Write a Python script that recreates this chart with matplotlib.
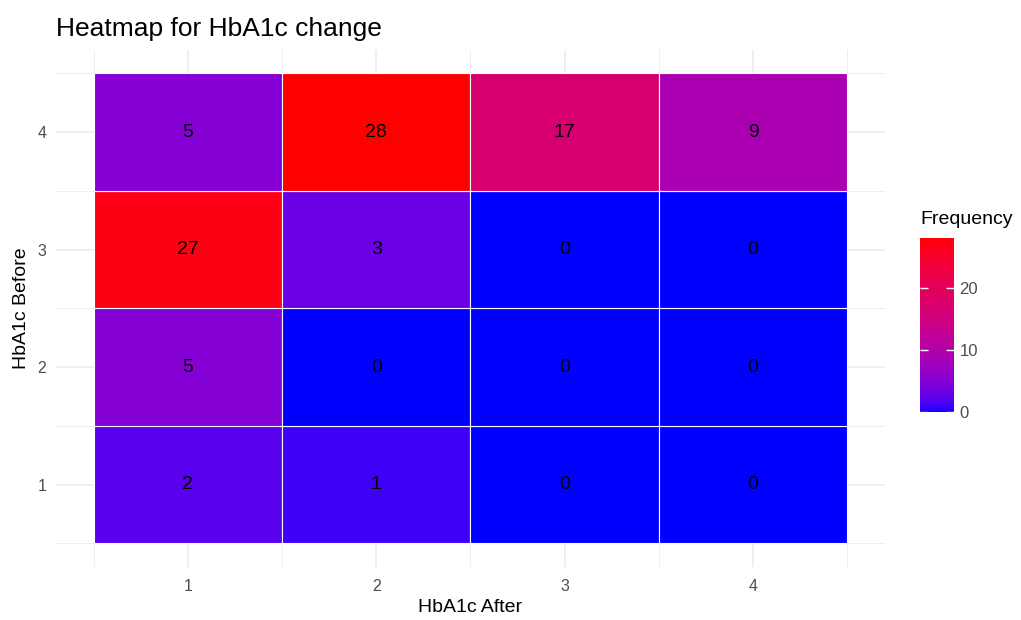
import numpy as np
import matplotlib
matplotlib.use("Agg")
from matplotlib import pyplot as plt
from matplotlib.colors import ListedColormap, Normalize

plt.rcParams['font.family'] = ['Liberation Sans', 'DejaVu Sans']

# data
after_levels = [1, 2, 3, 4]
before_levels = [1, 2, 3, 4]
# rows = HbA1c Before (1..4), cols = HbA1c After (1..4)
freq = np.array([
    [2, 1, 0, 0],
    [5, 0, 0, 0],
    [27, 3, 0, 0],
    [5, 28, 17, 9],
])

# blue -> red gradient interpolated in CIELAB, like ggplot's scale_fill_gradient
def srgb_to_lab(c):
    c = np.asarray(c, float)
    lin = np.where(c <= 0.04045, c / 12.92, ((c + 0.055) / 1.055) ** 2.4)
    m = np.array([[0.4124, 0.3576, 0.1805],
                  [0.2126, 0.7152, 0.0722],
                  [0.0193, 0.1192, 0.9505]])
    xyz = m @ lin / np.array([0.95047, 1.0, 1.08883])
    f = np.where(xyz > 0.008856, np.cbrt(xyz), 7.787 * xyz + 16 / 116)
    return np.array([116 * f[1] - 16, 500 * (f[0] - f[1]), 200 * (f[1] - f[2])])

def lab_to_srgb(lab):
    L, a, b = lab
    fy = (L + 16) / 116
    fx = fy + a / 500
    fz = fy - b / 200
    f = np.array([fx, fy, fz])
    xyz = np.where(f ** 3 > 0.008856, f ** 3, (f - 16 / 116) / 7.787)
    xyz = xyz * np.array([0.95047, 1.0, 1.08883])
    m = np.array([[3.2406, -1.5372, -0.4986],
                  [-0.9689, 1.8758, 0.0415],
                  [0.0557, -0.2040, 1.0570]])
    lin = np.clip(m @ xyz, 0, 1)
    c = np.where(lin <= 0.0031308, 12.92 * lin, 1.055 * lin ** (1 / 2.4) - 0.055)
    return np.clip(c, 0, 1)

lab_lo = srgb_to_lab([0, 0, 1])
lab_hi = srgb_to_lab([1, 0, 0])
cols = [lab_to_srgb(lab_lo + t * (lab_hi - lab_lo)) for t in np.linspace(0, 1, 256)]
cmap = ListedColormap(cols)
norm = Normalize(vmin=freq.min(), vmax=freq.max())

fig = plt.figure(figsize=(10.21, 6.2), dpi=100)
ax = fig.add_axes([0.0548, 0.0855, 0.812, 0.834])

grid_c = '#EBEBEB'
for v in after_levels:
    ax.axvline(v, color=grid_c, lw=1.1, zorder=0)
for v in before_levels:
    ax.axhline(v, color=grid_c, lw=1.1, zorder=0)
for v in np.arange(0.5, 5, 1):
    ax.axvline(v, color=grid_c, lw=0.6, zorder=0)
    ax.axhline(v, color=grid_c, lw=0.6, zorder=0)

for i, b in enumerate(before_levels):
    for j, a in enumerate(after_levels):
        val = freq[i, j]
        ax.add_patch(plt.Rectangle((a - 0.5, b - 0.5), 1, 1,
                                   facecolor=cmap(norm(val)), edgecolor='white',
                                   lw=0.8, zorder=2))
        ax.text(a, b, str(val), ha='center', va='center', fontsize=14,
                color='black', zorder=3)

ax.set_xlim(0.3, 4.7)
ax.set_ylim(0.3, 4.7)
ax.set_xticks(after_levels)
ax.set_yticks(before_levels)
ax.tick_params(length=0, labelsize=11.5, labelcolor='#4D4D4D')
ax.tick_params(axis='x', pad=9)
ax.tick_params(axis='y', pad=7)
for s in ax.spines.values():
    s.set_visible(False)
ax.set_xlabel('HbA1c After', fontsize=14, labelpad=3)
ax.set_ylabel('HbA1c Before', fontsize=14, labelpad=5)
ax.set_title('Heatmap for HbA1c change', fontsize=19, loc='left', pad=10)

cax = fig.add_axes([0.901, 0.3355, 0.0333, 0.2806])
sm = plt.cm.ScalarMappable(norm=norm, cmap=cmap)
cb = fig.colorbar(sm, cax=cax, ticks=[0, 10, 20])
cb.outline.set_visible(False)
cax.tick_params(direction='in', left=True, right=True, length=6, width=1,
                color='white', labelcolor='#4D4D4D', labelsize=12, pad=4)
cax.set_title('Frequency', fontsize=14, loc='left', pad=10)

fig.savefig('out.png', dpi=100)
